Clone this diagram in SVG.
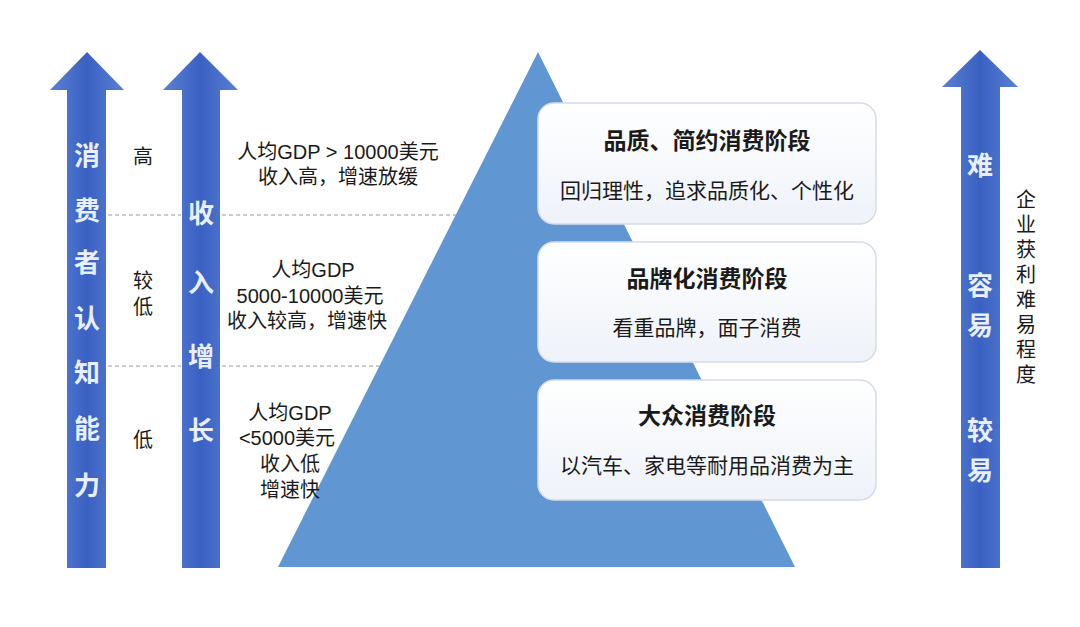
<svg xmlns="http://www.w3.org/2000/svg" width="1080" height="627" viewBox="0 0 1080 627">
<defs>
<linearGradient id="arrowGrad" x1="0" y1="0" x2="1" y2="0">
<stop offset="0" stop-color="#5a80d4"/>
<stop offset="0.5" stop-color="#3a61c2"/>
<stop offset="1" stop-color="#5a80d4"/>
</linearGradient>
<linearGradient id="boxGrad" x1="0" y1="0" x2="0" y2="1">
<stop offset="0" stop-color="#ffffff"/>
<stop offset="1" stop-color="#eef2f9"/>
</linearGradient>
</defs>
<style>
.arrow{fill:url(#arrowGrad);}
.box{fill:url(#boxGrad);stroke:#d6dce6;stroke-width:1.5;}
.dash{stroke:#9a9a9a;stroke-width:1.2;stroke-dasharray:4 3;fill:none;}
.t{font-family:"Liberation Sans","Noto Sans CJK SC",sans-serif;fill:#1a1a1a;text-anchor:middle;}
.w{font-family:"Liberation Sans","Noto Sans CJK SC",sans-serif;fill:#e8efff;text-anchor:middle;font-size:26px;font-weight:bold;}
.title{font-size:23px;font-weight:bold;}
.sub{font-size:21px;}
.lbl{font-size:20px;}
.gdp{font-size:20px;}
</style>
<rect width="1080" height="627" fill="#ffffff"/>

<g id="connectors">
<line class="dash" x1="108" y1="215" x2="181" y2="215"/>
<line class="dash" x1="222" y1="215" x2="457" y2="215"/>
<line class="dash" x1="108" y1="366" x2="181" y2="366"/>
<line class="dash" x1="222" y1="366" x2="380" y2="366"/>
</g>

<g id="pyramid">
<polygon points="538,52 795,567 278,567" fill="#6096d2"/>
</g>

<g id="arrow-cognition">
<polygon class="arrow" points="87,52 124,90 106,90 106,568 67,568 67,90 50,90"/>
<text class="w" x="87" y="165">消</text>
<text class="w" x="87" y="220">费</text>
<text class="w" x="87" y="272">者</text>
<text class="w" x="87" y="328">认</text>
<text class="w" x="87" y="382">知</text>
<text class="w" x="87" y="438">能</text>
<text class="w" x="87" y="495">力</text>
</g>

<g id="arrow-income">
<polygon class="arrow" points="200,52 238,90 220,90 220,568 182,568 182,90 163,90"/>
<text class="w" x="201" y="223">收</text>
<text class="w" x="201" y="292">入</text>
<text class="w" x="201" y="366">增</text>
<text class="w" x="201" y="440">长</text>
</g>

<g id="levels">
<text class="t lbl" x="143" y="164">高</text>
<text class="t lbl" x="143" y="288">较</text>
<text class="t lbl" x="143" y="314">低</text>
<text class="t lbl" x="143" y="447">低</text>
</g>

<g id="gdp-high">
<text class="t gdp" x="338" y="159">人均GDP &gt; 10000美元</text>
<text class="t gdp" x="338" y="184">收入高，增速放缓</text>
</g>
<g id="gdp-mid">
<text class="t gdp" x="313" y="277">人均GDP</text>
<text class="t gdp" x="310" y="303">5000-10000美元</text>
<text class="t gdp" x="307" y="328">收入较高，增速快</text>
</g>
<g id="gdp-low">
<text class="t gdp" x="290" y="420">人均GDP</text>
<text class="t gdp" x="287" y="445">&lt;5000美元</text>
<text class="t gdp" x="290" y="471">收入低</text>
<text class="t gdp" x="290" y="497">增速快</text>
</g>

<g id="stage-quality">
<rect class="box" x="538" y="103" width="338" height="121" rx="16"/>
<text class="t title" x="707" y="149">品质、简约消费阶段</text>
<text class="t sub" x="707" y="198">回归理性，追求品质化、个性化</text>
</g>
<g id="stage-brand">
<rect class="box" x="538" y="242" width="338" height="120" rx="16"/>
<text class="t title" x="707" y="287">品牌化消费阶段</text>
<text class="t sub" x="707" y="335">看重品牌，面子消费</text>
</g>
<g id="stage-mass">
<rect class="box" x="538" y="380" width="338" height="120" rx="16"/>
<text class="t title" x="707" y="424">大众消费阶段</text>
<text class="t sub" x="707" y="473">以汽车、家电等耐用品消费为主</text>
</g>

<g id="arrow-difficulty">
<polygon class="arrow" points="980,50 1018,87 1000,87 1000,568 961,568 961,87 942,87"/>
<text class="w" x="980" y="175">难</text>
<text class="w" x="980" y="295">容</text>
<text class="w" x="980" y="335">易</text>
<text class="w" x="980" y="440">较</text>
<text class="w" x="980" y="480">易</text>
</g>

<g id="difficulty-label">
<text class="t lbl" x="1026" y="207">企</text>
<text class="t lbl" x="1026" y="232">业</text>
<text class="t lbl" x="1026" y="257">获</text>
<text class="t lbl" x="1026" y="282">利</text>
<text class="t lbl" x="1026" y="307">难</text>
<text class="t lbl" x="1026" y="332">易</text>
<text class="t lbl" x="1026" y="357">程</text>
<text class="t lbl" x="1026" y="382">度</text>
</g>
</svg>
